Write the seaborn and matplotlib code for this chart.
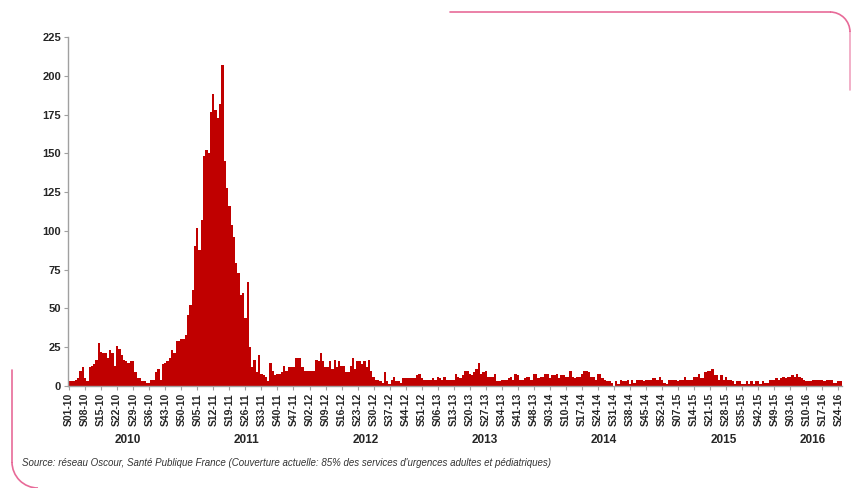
import numpy as np
import pandas as pd
import matplotlib
matplotlib.use('Agg')
import matplotlib.pyplot as plt
import seaborn as sns
from matplotlib.lines import Line2D
from matplotlib.patches import Arc

# weekly counts, one list per year
w2010 = [3, 3, 3, 4, 5, 10, 12, 5, 3, 12, 13, 14, 17, 28, 22, 21, 21, 18, 23, 21,
         13, 26, 24, 20, 17, 16, 15, 16, 16, 9, 5, 5, 3, 3, 2, 2, 4, 4, 9, 11,
         4, 14, 15, 16, 18, 23, 21, 29, 29, 30, 30, 33]
w2011 = [46, 52, 62, 90, 102, 88, 107, 148, 152, 150, 177, 188, 178, 173, 182, 207, 145, 128, 116, 104,
         96, 79, 73, 59, 60, 44, 67, 25, 12, 17, 9, 20, 8, 7, 6, 3, 15, 10, 7, 8,
         8, 9, 13, 10, 12, 12, 12, 18, 18, 18, 12, 10]
w2012 = [10, 10, 10, 10, 17, 16, 21, 16, 12, 12, 16, 11, 17, 12, 16, 13, 13, 9, 9, 13,
         18, 11, 16, 16, 14, 16, 12, 17, 10, 6, 4, 4, 3, 2, 9, 3, 1, 4, 6, 3,
         3, 2, 5, 5, 5, 5, 5, 5, 7, 8, 5, 4]
w2013 = [4, 4, 4, 5, 4, 6, 5, 4, 6, 4, 4, 4, 4, 8, 6, 5, 7, 10, 10, 8,
         7, 9, 11, 15, 8, 9, 10, 6, 6, 6, 8, 3, 3, 4, 4, 4, 5, 6, 4, 8,
         7, 4, 4, 5, 6, 6, 4, 8, 8, 5, 6, 6]
w2014 = [8, 8, 5, 7, 7, 8, 5, 7, 7, 6, 6, 10, 6, 5, 6, 6, 8, 10, 10, 9,
         6, 6, 4, 8, 8, 5, 4, 3, 3, 2, 0, 3, 1, 4, 3, 3, 4, 1, 4, 2,
         4, 4, 4, 3, 4, 4, 4, 5, 5, 4, 6, 4]
w2015 = [2, 1, 4, 4, 4, 4, 3, 4, 4, 6, 4, 4, 4, 6, 6, 8, 5, 5, 9, 10,
         10, 11, 7, 7, 4, 7, 4, 6, 4, 4, 3, 1, 3, 3, 1, 1, 3, 1, 3, 1,
         3, 3, 1, 3, 2, 2, 4, 4, 4, 5, 4, 5, 6]
w2016 = [5, 6, 6, 7, 6, 8, 6, 5, 4, 3, 3, 3, 4, 4, 4, 4, 4, 3, 4, 4,
         4, 2, 2, 3, 3]

years = ['2010', '2011', '2012', '2013', '2014', '2015', '2016']
tick_labels = ['S01-10', 'S08-10', 'S15-10', 'S22-10', 'S29-10', 'S36-10', 'S43-10', 'S50-10',
               'S05-11', 'S12-11', 'S19-11', 'S26-11', 'S33-11', 'S40-11', 'S47-11',
               'S02-12', 'S09-12', 'S16-12', 'S23-12', 'S30-12', 'S37-12', 'S44-12', 'S51-12',
               'S06-13', 'S13-13', 'S20-13', 'S27-13', 'S34-13', 'S41-13', 'S48-13',
               'S03-14', 'S10-14', 'S17-14', 'S24-14', 'S31-14', 'S38-14', 'S45-14', 'S52-14',
               'S07-15', 'S14-15', 'S21-15', 'S28-15', 'S35-15', 'S42-15', 'S49-15',
               'S03-16', 'S10-16', 'S17-16', 'S24-16']
source = ("Source: réseau Oscour, Santé Publique France (Couverture actuelle: 85% des services "
          "d'urgences adultes et pédiatriques)")

rows = []
for year, vals in zip(years, [w2010, w2011, w2012, w2013, w2014, w2015, w2016]):
    for k, v in enumerate(vals):
        rows.append({'week': 'S%02d-%s' % (k + 1, year[2:]), 'year': year, 'cases': v})
df = pd.DataFrame(rows)
weeks = list(df['week'])

sns.set_style('white')
plt.rcParams['font.family'] = ['Liberation Sans', 'DejaVu Sans']

fig = plt.figure(figsize=(8.56, 4.88), dpi=100)
ax = fig.add_axes([0.0794, 0.209, 0.904, 0.715])

sns.barplot(data=df, x='week', y='cases', color='#c00000', saturation=1,
            width=1.0, linewidth=0, ax=ax, errorbar=None)

ax.set_xlim(-0.5, len(df) - 0.5)
ax.set_ylim(0, 225)
ax.set_yticks(np.arange(0, 226, 25))
ax.set_xticks([weeks.index(t) for t in tick_labels])
ax.set_xticklabels(tick_labels, rotation=90, fontsize=7.5, fontweight='bold')
for lab in ax.get_yticklabels():
    lab.set_fontweight('bold')
    lab.set_fontsize(8)
ax.set_xlabel('')
ax.set_ylabel('')

for s in ['top', 'right']:
    ax.spines[s].set_visible(False)
for s in ['left', 'bottom']:
    ax.spines[s].set_color('#a0a0a0')
    ax.spines[s].set_linewidth(1.0)
ax.tick_params(axis='both', which='both', direction='out', length=3, width=0.8,
               color='#a0a0a0', pad=2, left=True, bottom=True)

# year labels centred under each year
for year in years:
    idx = df.index[df['year'] == year]
    ax.text(idx.values.mean(), -0.155, year, transform=ax.get_xaxis_transform(),
            ha='center', va='center', fontsize=8.5, fontweight='bold')

fig.text(0.026, 0.051, source, fontsize=7, style='italic', color='#333333',
         ha='left', va='center')

# pink page frame (partially visible)
pink = '#e2457f'
W, H = 856.0, 488.0
fig.add_artist(Line2D([450 / W, 830 / W], [1 - 12 / H, 1 - 12 / H], color=pink, lw=1.2, alpha=0.8,
                      transform=fig.transFigure))
fig.add_artist(Arc((830 / W, 1 - 32 / H), 40 / W, 40 / H, theta1=0, theta2=90,
                   color=pink, lw=1.2, alpha=0.8, transform=fig.transFigure))
fig.add_artist(Line2D([850 / W, 850 / W], [1 - 32 / H, 1 - 90 / H], color=pink, lw=1.2, alpha=0.5,
                      transform=fig.transFigure))
fig.add_artist(Line2D([12 / W, 12 / W], [1 - 370 / H, 1 - 462 / H], color=pink, lw=1.2, alpha=0.8,
                      transform=fig.transFigure))
fig.add_artist(Arc((38 / W, 1 - 462 / H), 52 / W, 52 / H, theta1=180, theta2=270,
                   color=pink, lw=1.2, alpha=0.8, transform=fig.transFigure))

fig.savefig('out.png', dpi=100)
